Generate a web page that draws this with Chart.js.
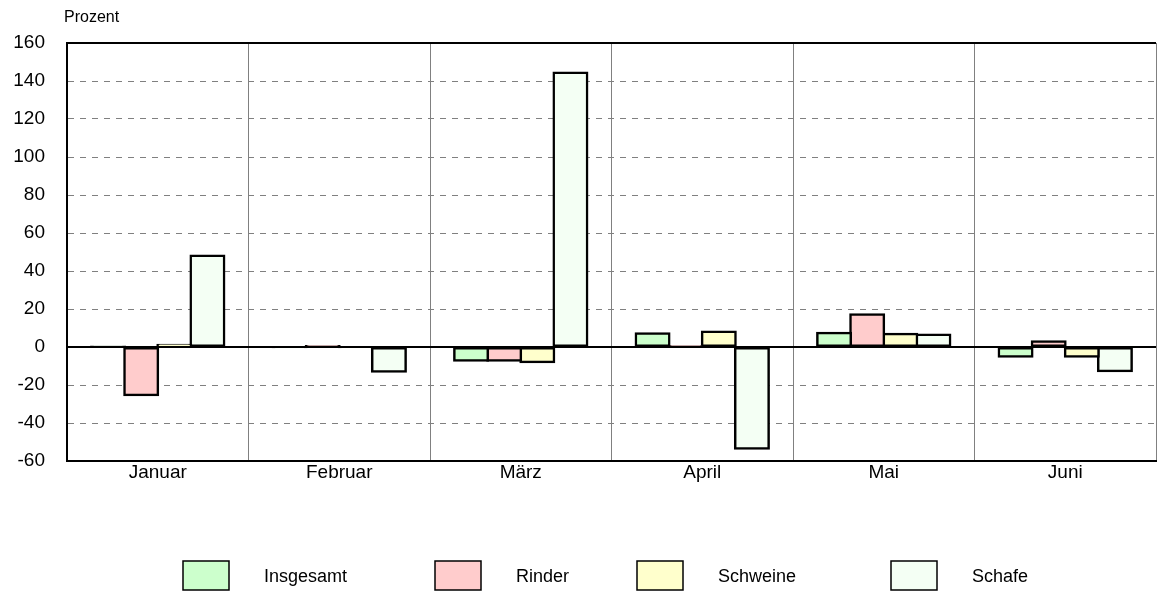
<!DOCTYPE html>
<html>
<head>
<meta charset="utf-8">
<script src="https://cdn.jsdelivr.net/npm/chart.js@4.4.1/dist/chart.umd.min.js"></script>
<style>
  html, body { margin: 0; padding: 0; background: #fff; }
  canvas { display: block; }
</style>
</head>
<body>
<canvas id="chart" width="1157" height="594"></canvas>
<script>
const months = ["Januar", "Februar", "März", "April", "Mai", "Juni"];
const seriesNames = ["Insgesamt", "Rinder", "Schweine", "Schafe"];
const insgesamt = [0.5, -0.3, -7.4, 7.5, 7.7, -5.3];
const rinder = [-25.6, 0.8, -7.4, 0.8, 17.4, 3.3];
const schweine = [1.4, -0.3, -8.2, 8.4, 7.2, -5.3];
const schafe = [48.4, -13.3, 144.7, -53.8, 6.8, -13.0];
const yTicks = [-60, -40, -20, 0, 20, 40, 60, 80, 100, 120, 140, 160];

const colors = ["#ccffcc", "#ffcccc", "#ffffcc", "#f4fff4"];
const FONT = "Arial, 'Liberation Sans', sans-serif";

// frame, zero line, unit label and legend
const extras = {
  id: "extras",
  afterDatasetsDraw(chart) {
    const { ctx, chartArea: a, scales } = chart;
    const y0 = scales.y.getPixelForValue(0);
    ctx.save();
    ctx.strokeStyle = "#000";
    ctx.lineWidth = 2;
    ctx.beginPath();
    ctx.moveTo(a.left, y0);
    ctx.lineTo(a.right, y0);
    ctx.moveTo(a.left, a.top);
    ctx.lineTo(a.right, a.top);
    ctx.stroke();

    ctx.fillStyle = "#000";
    ctx.font = "16px " + FONT;
    ctx.textBaseline = "middle";
    ctx.fillText("Prozent", 64, 18);

    // legend
    const boxX = [183, 435, 637, 891];
    ctx.font = "18px " + FONT;
    seriesNames.forEach((name, i) => {
      ctx.fillStyle = colors[i];
      ctx.fillRect(boxX[i], 561, 46, 29);
      ctx.strokeStyle = "#000";
      ctx.lineWidth = 1.5;
      ctx.strokeRect(boxX[i], 561, 46, 29);
      ctx.fillStyle = "#000";
      ctx.fillText(name, boxX[i] + 81, 577);
    });
    ctx.restore();
  }
};

const values = [insgesamt, rinder, schweine, schafe];

new Chart(document.getElementById("chart"), {
  type: "bar",
  data: {
    labels: months,
    datasets: seriesNames.map((name, i) => ({
      label: name,
      data: values[i],
      backgroundColor: colors[i],
      borderColor: "#000",
      borderWidth: 2.5,
      borderSkipped: false,
      inflateAmount: 0.6,
      categoryPercentage: 0.73,
      barPercentage: 1.05
    }))
  },
  options: {
    responsive: false,
    animation: false,
    layout: { padding: { top: 43, left: 0, right: 1, bottom: 0 } },
    plugins: {
      legend: { display: false },
      tooltip: { enabled: false }
    },
    scales: {
      x: {
        grid: { color: "#808080", lineWidth: 1, drawTicks: false },
        border: { display: true, color: "#000", width: 2 },
        ticks: { color: "#000", font: { size: 19, family: FONT }, padding: 0 },
        afterFit(scale) { scale.height = 133; }
      },
      y: {
        min: -60,
        max: 160,
        afterBuildTicks(scale) { scale.ticks = yTicks.map(v => ({ value: v })); },
        grid: {
          color: ctx => (ctx.tick && (ctx.tick.value === 0 || ctx.tick.value === 160 || ctx.tick.value === -60)) ? "rgba(0,0,0,0)" : "#808080",
          lineWidth: 1,
          drawTicks: false
        },
        border: { display: true, color: "#000", width: 2, dash: [6, 6] },
        ticks: { color: "#000", font: { size: 19, family: FONT }, padding: 22 },
        afterFit(scale) { scale.width = 67; }
      }
    }
  },
  plugins: [extras]
});
</script>
</body>
</html>
